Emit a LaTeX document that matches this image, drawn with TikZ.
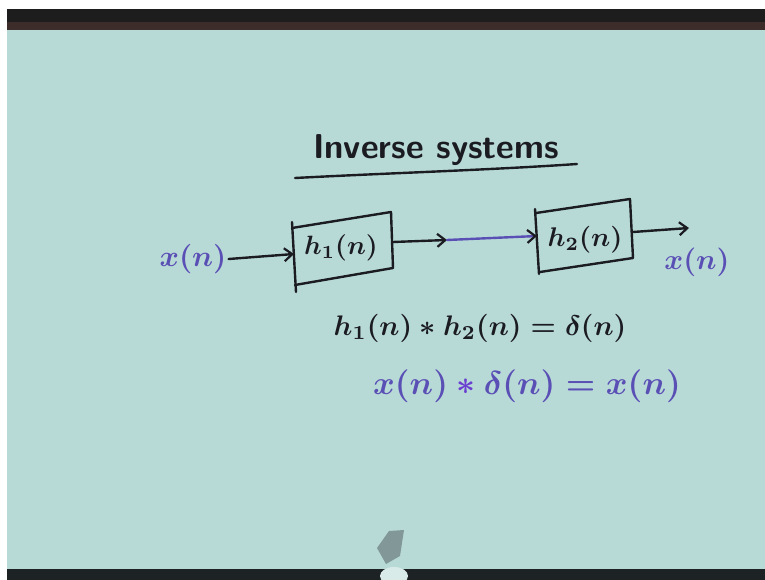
\documentclass[tikz,border=0pt]{standalone}
\usepackage{graphicx}
\usetikzlibrary{arrows.meta}
\definecolor{board}{HTML}{B8DAD7}
\definecolor{ink}{HTML}{1B1B22}
\definecolor{violet}{HTML}{5A4FB5}
\definecolor{brightviolet}{HTML}{6B3FD0}
\definecolor{bandA}{HTML}{1E1D1E}
\definecolor{bandB}{HTML}{3C2C2A}
\definecolor{bandC}{HTML}{1D2225}
\begin{document}
\begin{tikzpicture}[x=1pt,y=-1pt,
  inkline/.style={draw=ink, line width=2.4pt, line cap=round, line join=round},
  tipbarb/.style={-{Straight Barb[length=8pt,width=13pt,line width=2.2pt,color=ink]}},
  arr/.style={inkline, tipbarb},
  handtext/.style={inner sep=0pt, text=ink},
]
\useasboundingbox (0,0) rectangle (765,580);
% background
\fill[white] (0,0) rectangle (765,580);
\fill[board] (7,28) rectangle (765,570);
\fill[bandA] (7,9) rectangle (765,22);
\fill[bandB] (7,22) rectangle (765,30);
\fill[bandC] (7,569) rectangle (765,580);
% marker/hand at bottom
\fill[color=ink!35!board] (377,548) -- (389,531) -- (404,530) -- (400,556) -- (386,564) -- cycle;
\fill[color=white!45!board] (394,576) ellipse [x radius=14, y radius=9];

% title
\node[handtext] (title) at (436,150) {\scalebox{3.45}{\sffamily\bfseries Inverse systems}};
\coordinate (ulL) at (295,178);
\coordinate (ulR) at (577,164);
\draw[inkline] (ulL) .. controls (390,173) and (490,170) .. (ulR);

% input / output signals
\node[handtext, text=violet] (xin) at (193,259) {\scalebox{2.95}{\boldmath$x(n)$}};
\node[handtext, text=violet] (xout) at (697,262) {\scalebox{2.87}{\boldmath$x(n)$}};

% box 1
\coordinate (b1tl) at (292,228);
\coordinate (b1tr) at (391,212);
\coordinate (b1br) at (393,268);
\coordinate (b1bl) at (295,285);
\draw[inkline] (b1tl) -- (b1tr) -- (b1br) -- (b1bl);
\draw[inkline] (292,222) -- (296,292);
\node[handtext] (h1) at (341,248) {\scalebox{2.65}{\boldmath$h_1(n)$}};

% box 2
\coordinate (b2tl) at (536,213);
\coordinate (b2tr) at (630,199);
\coordinate (b2br) at (633,258);
\coordinate (b2bl) at (540,272);
\draw[inkline] (b2tl) -- (b2tr) -- (b2br) -- (b2bl);
\draw[inkline] (535,209) -- (539,274);
\node[handtext] (h2) at (585,240) {\scalebox{2.7}{\boldmath$h_2(n)$}};

% connectors
\coordinate (b1in) at (294,254);
\coordinate (b1out) at (393,242);
\coordinate (mid) at (447,240);
\coordinate (b2in) at (537,236);
\coordinate (b2out) at (633,232);
\coordinate (outend) at (689,228);
\draw[arr] ([xshift=2pt]xin.east) -- (b1in);
\draw[arr] (b1out) -- (mid);
\draw[draw=violet, line width=2.4pt, line cap=round, tipbarb] (mid) -- (b2in);
\draw[arr] (b2out) -- (outend);

% equations
\node[handtext] (eq1) at (480,328) {\scalebox{2.83}{\boldmath$h_1(n) \ast h_2(n) = \delta(n)$}};
\node[handtext, text=violet] (eq2) at (527,386) {\scalebox{3.3}{\boldmath$x(n) \mathbin{\textcolor{brightviolet}{\ast}} \delta(n) = x(n)$}};
\end{tikzpicture}
\end{document}
